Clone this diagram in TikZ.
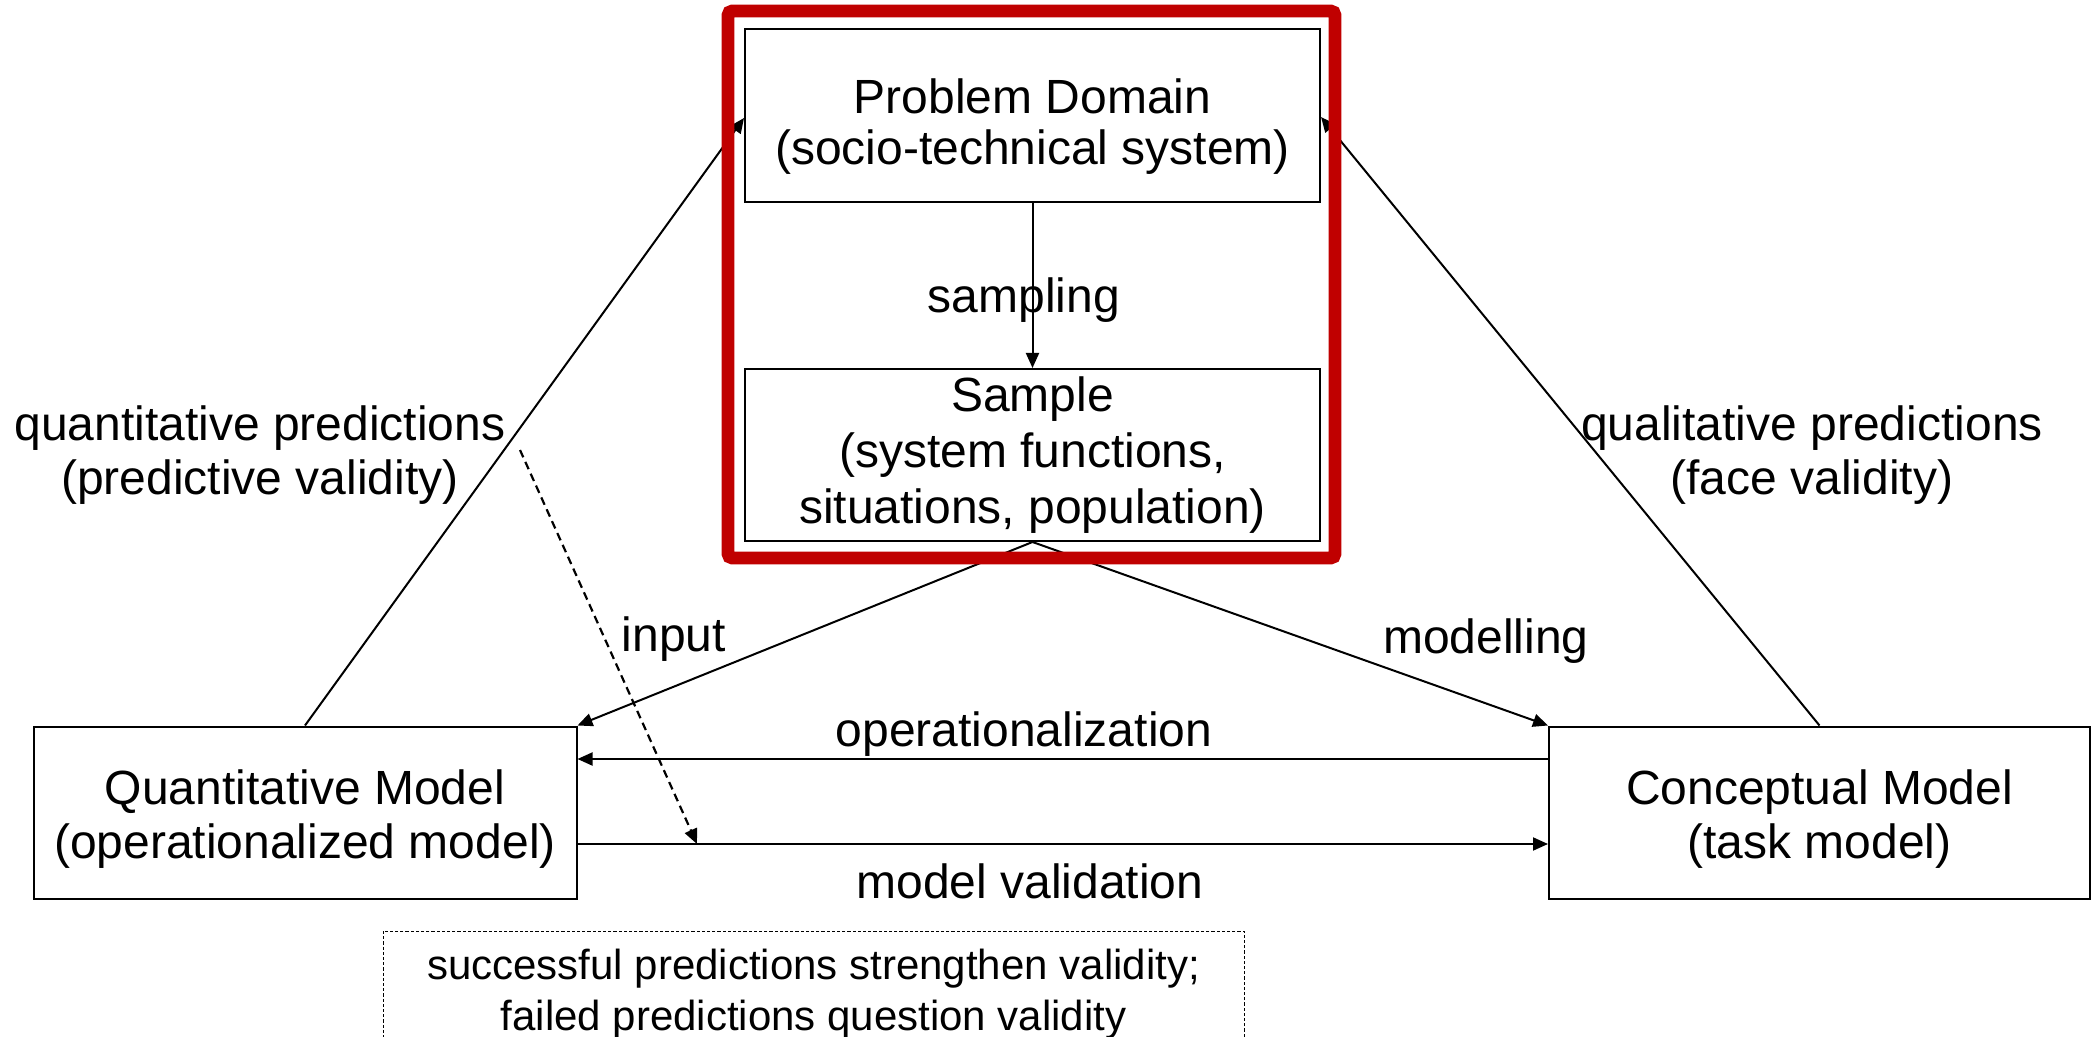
\documentclass[tikz,border=0pt]{standalone}
\usepackage{fontspec}
\setmainfont{Liberation Sans}
\usetikzlibrary{arrows.meta,calc}
\definecolor{redframe}{HTML}{C00000}
\newcommand{\topstrut}[1]{\rule{0pt}{#1}}
\tikzset{
  box/.style={draw,line width=1pt,align=center,inner sep=0pt,font=\fontsize{24}{27}\selectfont},
  lbl/.style={align=center,inner sep=0pt,font=\fontsize{24}{27}\selectfont},
  conn/.style={line width=1pt,-{Triangle[length=7.5pt,width=6.5pt]}},
  dashconn/.style={line width=1.1pt,dash pattern=on 4pt off 2.5pt,-{Triangle[length=7.5pt,width=6.5pt]}},
  notebox/.style={draw,line width=0.5pt,dash pattern=on 1.6pt off 1pt},
  notetext/.style={align=center,inner sep=0pt,font=\fontsize{21}{25.5}\selectfont}
}
\begin{document}
\begin{tikzpicture}[x=0.5pt,y=-0.5pt]
\useasboundingbox (0,0) rectangle (2093,1037);
% boxes
\node[box,minimum width=287.5pt,minimum height=86.5pt,font=\fontsize{24}{25.5}\selectfont] (pd) at (1032.5,115.5)
  {\topstrut{28pt}Problem Domain\\(socio-technical system)};
\node[box,minimum width=287.5pt,minimum height=86pt,font=\fontsize{24}{28}\selectfont] (sample) at (1032.5,455)
  {Sample\\(system functions,\\situations, population)};
\node[box,minimum width=271.5pt,minimum height=86pt] (quant) at (305,812.5)
  {\topstrut{24pt}Quantitative Model\\(operationalized model)};
\node[box,minimum width=270.5pt,minimum height=86pt] (concept) at (1819.5,812.5)
  {\topstrut{24pt}Conceptual Model\\(task model)};
% helper coordinates
\coordinate (yop) at (0,759);
\coordinate (yval) at (0,844);
\coordinate (dstart) at (520,450);
\coordinate (dend) at (697,844);
% connectors
\draw[conn] (pd.south) -- (sample.north);
\draw[conn] (sample.south) -- (quant.north east);
\draw[conn] (sample.south) -- (concept.north west);
\draw[conn] (concept.west |- yop) -- (quant.east |- yop);
\draw[conn] (quant.east |- yval) -- (concept.west |- yval);
\draw[conn] (quant.north) -- ($(pd.west)+(0,2.5)$);
\draw[conn] (concept.north) -- ($(pd.east)+(0,1.5)$);
\draw[dashconn] (dstart) -- (dend);
% red frame
\draw[redframe,line width=6.3pt,rounded corners=2pt] (728,11) rectangle (1335,558);
% labels
\node[lbl] (lsampling) at (1024,300) {sampling};
\node[lbl] (linput) at (674,639) {input};
\node[lbl] (lmodelling) at (1486,641) {modelling};
\node[lbl] (lop) at (1024,734) {operationalization};
\node[lbl] (lval) at (1030,881) {model validation};
\node[lbl] (lquant) at (260,455) {quantitative predictions\\(predictive validity)};
\node[lbl] (lqual) at (1812,455) {qualitative predictions\\(face validity)};
% note
\draw[notebox] (383,931) rectangle (1244,1050);
\node[notetext] (note) at (813.5,994) {successful predictions strengthen validity;\\failed predictions question validity};
\end{tikzpicture}
\end{document}
